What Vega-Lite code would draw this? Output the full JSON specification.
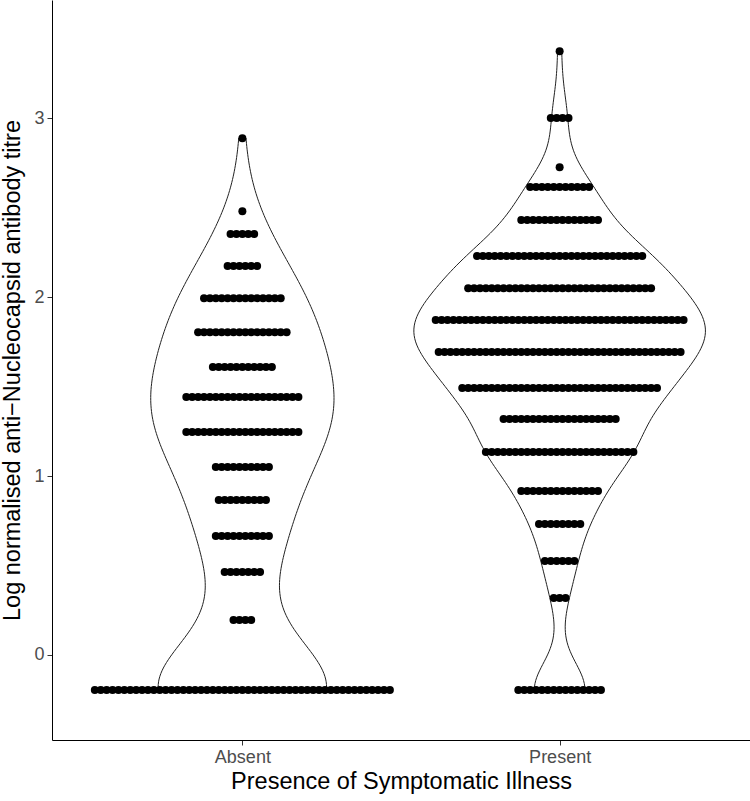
{
"$schema": "https://vega.github.io/schema/vega-lite/v6.json",
"width": 698, "height": 740,
"autosize": {"type": "none"},
"padding": {"left": 52, "top": 0, "right": 0, "bottom": 61},
"background": "white",
"config": {
  "view": {"stroke": null},
  "font": "Liberation Sans",
  "axis": {"grid": false, "domainColor": "black", "domainWidth": 1, "tickColor": "#333333", "tickSize": 5, "labelColor": "#4D4D4D", "labelFontSize": 18, "titleFontSize": 23.5, "titleColor": "black", "titleFontWeight": "normal", "labelFont": "Liberation Sans", "titleFont": "Liberation Sans"}
},
"data": {"values": [
{"g":"Absent","v":2.888},{"g":"Absent","v":2.48},
{"g":"Absent","v":2.352},{"g":"Absent","v":2.352},{"g":"Absent","v":2.352},{"g":"Absent","v":2.352},{"g":"Absent","v":2.352},
{"g":"Absent","v":2.173},{"g":"Absent","v":2.173},{"g":"Absent","v":2.173},{"g":"Absent","v":2.173},{"g":"Absent","v":2.173},{"g":"Absent","v":2.173},
{"g":"Absent","v":1.994},{"g":"Absent","v":1.994},{"g":"Absent","v":1.994},{"g":"Absent","v":1.994},{"g":"Absent","v":1.994},{"g":"Absent","v":1.994},{"g":"Absent","v":1.994},{"g":"Absent","v":1.994},{"g":"Absent","v":1.994},{"g":"Absent","v":1.994},{"g":"Absent","v":1.994},{"g":"Absent","v":1.994},{"g":"Absent","v":1.994},{"g":"Absent","v":1.994},
{"g":"Absent","v":1.804},{"g":"Absent","v":1.804},{"g":"Absent","v":1.804},{"g":"Absent","v":1.804},{"g":"Absent","v":1.804},{"g":"Absent","v":1.804},{"g":"Absent","v":1.804},{"g":"Absent","v":1.804},{"g":"Absent","v":1.804},{"g":"Absent","v":1.804},{"g":"Absent","v":1.804},{"g":"Absent","v":1.804},{"g":"Absent","v":1.804},{"g":"Absent","v":1.804},{"g":"Absent","v":1.804},{"g":"Absent","v":1.804},
{"g":"Absent","v":1.609},{"g":"Absent","v":1.609},{"g":"Absent","v":1.609},{"g":"Absent","v":1.609},{"g":"Absent","v":1.609},{"g":"Absent","v":1.609},{"g":"Absent","v":1.609},{"g":"Absent","v":1.609},{"g":"Absent","v":1.609},{"g":"Absent","v":1.609},{"g":"Absent","v":1.609},
{"g":"Absent","v":1.441},{"g":"Absent","v":1.441},{"g":"Absent","v":1.441},{"g":"Absent","v":1.441},{"g":"Absent","v":1.441},{"g":"Absent","v":1.441},{"g":"Absent","v":1.441},{"g":"Absent","v":1.441},{"g":"Absent","v":1.441},{"g":"Absent","v":1.441},{"g":"Absent","v":1.441},{"g":"Absent","v":1.441},{"g":"Absent","v":1.441},{"g":"Absent","v":1.441},{"g":"Absent","v":1.441},{"g":"Absent","v":1.441},{"g":"Absent","v":1.441},{"g":"Absent","v":1.441},{"g":"Absent","v":1.441},{"g":"Absent","v":1.441},
{"g":"Absent","v":1.246},{"g":"Absent","v":1.246},{"g":"Absent","v":1.246},{"g":"Absent","v":1.246},{"g":"Absent","v":1.246},{"g":"Absent","v":1.246},{"g":"Absent","v":1.246},{"g":"Absent","v":1.246},{"g":"Absent","v":1.246},{"g":"Absent","v":1.246},{"g":"Absent","v":1.246},{"g":"Absent","v":1.246},{"g":"Absent","v":1.246},{"g":"Absent","v":1.246},{"g":"Absent","v":1.246},{"g":"Absent","v":1.246},{"g":"Absent","v":1.246},{"g":"Absent","v":1.246},{"g":"Absent","v":1.246},{"g":"Absent","v":1.246},
{"g":"Absent","v":1.05},{"g":"Absent","v":1.05},{"g":"Absent","v":1.05},{"g":"Absent","v":1.05},{"g":"Absent","v":1.05},{"g":"Absent","v":1.05},{"g":"Absent","v":1.05},{"g":"Absent","v":1.05},{"g":"Absent","v":1.05},{"g":"Absent","v":1.05},
{"g":"Absent","v":0.866},{"g":"Absent","v":0.866},{"g":"Absent","v":0.866},{"g":"Absent","v":0.866},{"g":"Absent","v":0.866},{"g":"Absent","v":0.866},{"g":"Absent","v":0.866},{"g":"Absent","v":0.866},{"g":"Absent","v":0.866},
{"g":"Absent","v":0.665},{"g":"Absent","v":0.665},{"g":"Absent","v":0.665},{"g":"Absent","v":0.665},{"g":"Absent","v":0.665},{"g":"Absent","v":0.665},{"g":"Absent","v":0.665},{"g":"Absent","v":0.665},{"g":"Absent","v":0.665},{"g":"Absent","v":0.665},
{"g":"Absent","v":0.464},{"g":"Absent","v":0.464},{"g":"Absent","v":0.464},{"g":"Absent","v":0.464},{"g":"Absent","v":0.464},{"g":"Absent","v":0.464},{"g":"Absent","v":0.464},
{"g":"Absent","v":0.196},{"g":"Absent","v":0.196},{"g":"Absent","v":0.196},{"g":"Absent","v":0.196},
{"g":"Absent","v":-0.196},{"g":"Absent","v":-0.196},{"g":"Absent","v":-0.196},{"g":"Absent","v":-0.196},{"g":"Absent","v":-0.196},{"g":"Absent","v":-0.196},{"g":"Absent","v":-0.196},{"g":"Absent","v":-0.196},{"g":"Absent","v":-0.196},{"g":"Absent","v":-0.196},
{"g":"Absent","v":-0.196},{"g":"Absent","v":-0.196},{"g":"Absent","v":-0.196},{"g":"Absent","v":-0.196},{"g":"Absent","v":-0.196},{"g":"Absent","v":-0.196},{"g":"Absent","v":-0.196},{"g":"Absent","v":-0.196},{"g":"Absent","v":-0.196},{"g":"Absent","v":-0.196},
{"g":"Absent","v":-0.196},{"g":"Absent","v":-0.196},{"g":"Absent","v":-0.196},{"g":"Absent","v":-0.196},{"g":"Absent","v":-0.196},{"g":"Absent","v":-0.196},{"g":"Absent","v":-0.196},{"g":"Absent","v":-0.196},{"g":"Absent","v":-0.196},{"g":"Absent","v":-0.196},
{"g":"Absent","v":-0.196},{"g":"Absent","v":-0.196},{"g":"Absent","v":-0.196},{"g":"Absent","v":-0.196},{"g":"Absent","v":-0.196},{"g":"Absent","v":-0.196},{"g":"Absent","v":-0.196},{"g":"Absent","v":-0.196},{"g":"Absent","v":-0.196},{"g":"Absent","v":-0.196},
{"g":"Absent","v":-0.196},{"g":"Absent","v":-0.196},{"g":"Absent","v":-0.196},{"g":"Absent","v":-0.196},{"g":"Absent","v":-0.196},{"g":"Absent","v":-0.196},{"g":"Absent","v":-0.196},{"g":"Absent","v":-0.196},{"g":"Absent","v":-0.196},{"g":"Absent","v":-0.196},
{"g":"Absent","v":-0.196},
{"g":"Present","v":3.374},
{"g":"Present","v":3.0},{"g":"Present","v":3.0},{"g":"Present","v":3.0},{"g":"Present","v":3.0},
{"g":"Present","v":2.726},
{"g":"Present","v":2.615},{"g":"Present","v":2.615},{"g":"Present","v":2.615},{"g":"Present","v":2.615},{"g":"Present","v":2.615},{"g":"Present","v":2.615},{"g":"Present","v":2.615},{"g":"Present","v":2.615},{"g":"Present","v":2.615},{"g":"Present","v":2.615},{"g":"Present","v":2.615},
{"g":"Present","v":2.43},{"g":"Present","v":2.43},{"g":"Present","v":2.43},{"g":"Present","v":2.43},{"g":"Present","v":2.43},{"g":"Present","v":2.43},{"g":"Present","v":2.43},{"g":"Present","v":2.43},{"g":"Present","v":2.43},{"g":"Present","v":2.43},{"g":"Present","v":2.43},{"g":"Present","v":2.43},{"g":"Present","v":2.43},{"g":"Present","v":2.43},
{"g":"Present","v":2.229},{"g":"Present","v":2.229},{"g":"Present","v":2.229},{"g":"Present","v":2.229},{"g":"Present","v":2.229},{"g":"Present","v":2.229},{"g":"Present","v":2.229},{"g":"Present","v":2.229},{"g":"Present","v":2.229},{"g":"Present","v":2.229},
{"g":"Present","v":2.229},{"g":"Present","v":2.229},{"g":"Present","v":2.229},{"g":"Present","v":2.229},{"g":"Present","v":2.229},{"g":"Present","v":2.229},{"g":"Present","v":2.229},{"g":"Present","v":2.229},{"g":"Present","v":2.229},{"g":"Present","v":2.229},
{"g":"Present","v":2.229},{"g":"Present","v":2.229},{"g":"Present","v":2.229},{"g":"Present","v":2.229},{"g":"Present","v":2.229},{"g":"Present","v":2.229},{"g":"Present","v":2.229},{"g":"Present","v":2.229},{"g":"Present","v":2.229},
{"g":"Present","v":2.05},{"g":"Present","v":2.05},{"g":"Present","v":2.05},{"g":"Present","v":2.05},{"g":"Present","v":2.05},{"g":"Present","v":2.05},{"g":"Present","v":2.05},{"g":"Present","v":2.05},{"g":"Present","v":2.05},{"g":"Present","v":2.05},
{"g":"Present","v":2.05},{"g":"Present","v":2.05},{"g":"Present","v":2.05},{"g":"Present","v":2.05},{"g":"Present","v":2.05},{"g":"Present","v":2.05},{"g":"Present","v":2.05},{"g":"Present","v":2.05},{"g":"Present","v":2.05},{"g":"Present","v":2.05},
{"g":"Present","v":2.05},{"g":"Present","v":2.05},{"g":"Present","v":2.05},{"g":"Present","v":2.05},{"g":"Present","v":2.05},{"g":"Present","v":2.05},{"g":"Present","v":2.05},{"g":"Present","v":2.05},{"g":"Present","v":2.05},{"g":"Present","v":2.05},
{"g":"Present","v":2.05},{"g":"Present","v":2.05},
{"g":"Present","v":1.872},{"g":"Present","v":1.872},{"g":"Present","v":1.872},{"g":"Present","v":1.872},{"g":"Present","v":1.872},{"g":"Present","v":1.872},{"g":"Present","v":1.872},{"g":"Present","v":1.872},{"g":"Present","v":1.872},{"g":"Present","v":1.872},
{"g":"Present","v":1.872},{"g":"Present","v":1.872},{"g":"Present","v":1.872},{"g":"Present","v":1.872},{"g":"Present","v":1.872},{"g":"Present","v":1.872},{"g":"Present","v":1.872},{"g":"Present","v":1.872},{"g":"Present","v":1.872},{"g":"Present","v":1.872},
{"g":"Present","v":1.872},{"g":"Present","v":1.872},{"g":"Present","v":1.872},{"g":"Present","v":1.872},{"g":"Present","v":1.872},{"g":"Present","v":1.872},{"g":"Present","v":1.872},{"g":"Present","v":1.872},{"g":"Present","v":1.872},{"g":"Present","v":1.872},
{"g":"Present","v":1.872},{"g":"Present","v":1.872},{"g":"Present","v":1.872},{"g":"Present","v":1.872},{"g":"Present","v":1.872},{"g":"Present","v":1.872},{"g":"Present","v":1.872},{"g":"Present","v":1.872},{"g":"Present","v":1.872},{"g":"Present","v":1.872},
{"g":"Present","v":1.872},{"g":"Present","v":1.872},{"g":"Present","v":1.872},
{"g":"Present","v":1.693},{"g":"Present","v":1.693},{"g":"Present","v":1.693},{"g":"Present","v":1.693},{"g":"Present","v":1.693},{"g":"Present","v":1.693},{"g":"Present","v":1.693},{"g":"Present","v":1.693},{"g":"Present","v":1.693},{"g":"Present","v":1.693},
{"g":"Present","v":1.693},{"g":"Present","v":1.693},{"g":"Present","v":1.693},{"g":"Present","v":1.693},{"g":"Present","v":1.693},{"g":"Present","v":1.693},{"g":"Present","v":1.693},{"g":"Present","v":1.693},{"g":"Present","v":1.693},{"g":"Present","v":1.693},
{"g":"Present","v":1.693},{"g":"Present","v":1.693},{"g":"Present","v":1.693},{"g":"Present","v":1.693},{"g":"Present","v":1.693},{"g":"Present","v":1.693},{"g":"Present","v":1.693},{"g":"Present","v":1.693},{"g":"Present","v":1.693},{"g":"Present","v":1.693},
{"g":"Present","v":1.693},{"g":"Present","v":1.693},{"g":"Present","v":1.693},{"g":"Present","v":1.693},{"g":"Present","v":1.693},{"g":"Present","v":1.693},{"g":"Present","v":1.693},{"g":"Present","v":1.693},{"g":"Present","v":1.693},{"g":"Present","v":1.693},
{"g":"Present","v":1.693},{"g":"Present","v":1.693},
{"g":"Present","v":1.492},{"g":"Present","v":1.492},{"g":"Present","v":1.492},{"g":"Present","v":1.492},{"g":"Present","v":1.492},{"g":"Present","v":1.492},{"g":"Present","v":1.492},{"g":"Present","v":1.492},{"g":"Present","v":1.492},{"g":"Present","v":1.492},
{"g":"Present","v":1.492},{"g":"Present","v":1.492},{"g":"Present","v":1.492},{"g":"Present","v":1.492},{"g":"Present","v":1.492},{"g":"Present","v":1.492},{"g":"Present","v":1.492},{"g":"Present","v":1.492},{"g":"Present","v":1.492},{"g":"Present","v":1.492},
{"g":"Present","v":1.492},{"g":"Present","v":1.492},{"g":"Present","v":1.492},{"g":"Present","v":1.492},{"g":"Present","v":1.492},{"g":"Present","v":1.492},{"g":"Present","v":1.492},{"g":"Present","v":1.492},{"g":"Present","v":1.492},{"g":"Present","v":1.492},
{"g":"Present","v":1.492},{"g":"Present","v":1.492},{"g":"Present","v":1.492},{"g":"Present","v":1.492},
{"g":"Present","v":1.318},{"g":"Present","v":1.318},{"g":"Present","v":1.318},{"g":"Present","v":1.318},{"g":"Present","v":1.318},{"g":"Present","v":1.318},{"g":"Present","v":1.318},{"g":"Present","v":1.318},{"g":"Present","v":1.318},{"g":"Present","v":1.318},
{"g":"Present","v":1.318},{"g":"Present","v":1.318},{"g":"Present","v":1.318},{"g":"Present","v":1.318},{"g":"Present","v":1.318},{"g":"Present","v":1.318},{"g":"Present","v":1.318},{"g":"Present","v":1.318},{"g":"Present","v":1.318},{"g":"Present","v":1.318},
{"g":"Present","v":1.134},{"g":"Present","v":1.134},{"g":"Present","v":1.134},{"g":"Present","v":1.134},{"g":"Present","v":1.134},{"g":"Present","v":1.134},{"g":"Present","v":1.134},{"g":"Present","v":1.134},{"g":"Present","v":1.134},{"g":"Present","v":1.134},
{"g":"Present","v":1.134},{"g":"Present","v":1.134},{"g":"Present","v":1.134},{"g":"Present","v":1.134},{"g":"Present","v":1.134},{"g":"Present","v":1.134},{"g":"Present","v":1.134},{"g":"Present","v":1.134},{"g":"Present","v":1.134},{"g":"Present","v":1.134},
{"g":"Present","v":1.134},{"g":"Present","v":1.134},{"g":"Present","v":1.134},{"g":"Present","v":1.134},{"g":"Present","v":1.134},{"g":"Present","v":1.134},
{"g":"Present","v":0.916},{"g":"Present","v":0.916},{"g":"Present","v":0.916},{"g":"Present","v":0.916},{"g":"Present","v":0.916},{"g":"Present","v":0.916},{"g":"Present","v":0.916},{"g":"Present","v":0.916},{"g":"Present","v":0.916},{"g":"Present","v":0.916},
{"g":"Present","v":0.916},{"g":"Present","v":0.916},{"g":"Present","v":0.916},{"g":"Present","v":0.916},
{"g":"Present","v":0.732},{"g":"Present","v":0.732},{"g":"Present","v":0.732},{"g":"Present","v":0.732},{"g":"Present","v":0.732},{"g":"Present","v":0.732},{"g":"Present","v":0.732},{"g":"Present","v":0.732},
{"g":"Present","v":0.525},{"g":"Present","v":0.525},{"g":"Present","v":0.525},{"g":"Present","v":0.525},{"g":"Present","v":0.525},{"g":"Present","v":0.525},
{"g":"Present","v":0.318},{"g":"Present","v":0.318},{"g":"Present","v":0.318},
{"g":"Present","v":-0.196},{"g":"Present","v":-0.196},{"g":"Present","v":-0.196},{"g":"Present","v":-0.196},{"g":"Present","v":-0.196},{"g":"Present","v":-0.196},{"g":"Present","v":-0.196},{"g":"Present","v":-0.196},{"g":"Present","v":-0.196},{"g":"Present","v":-0.196},
{"g":"Present","v":-0.196},{"g":"Present","v":-0.196},{"g":"Present","v":-0.196},{"g":"Present","v":-0.196},{"g":"Present","v":-0.196}
]},
"encoding": {
  "y": {"field": "v", "type": "quantitative", "scale": {"domain": [-0.475, 3.66], "nice": false, "zero": false},
        "axis": {"values": [0, 1, 2, 3], "format": "d", "labelPadding": 3, "titlePadding": 9},
        "title": "Log normalised anti\u2212Nucleocapsid antibody titre"},
  "x": {"field": "xp", "type": "quantitative", "scale": {"domain": [0.4, 2.6], "nice": false, "zero": false},
        "axis": {"values": [1, 2], "labelExpr": "datum.value == 1 ? 'Absent' : 'Present'", "labelPadding": 3, "titlePadding": 3},
        "title": "Presence of Symptomatic Illness"}
},
"layer": [
  {"transform": [
     {"filter": "datum.g === 'Absent'"},
     {"density": "v", "bandwidth": 0.271, "extent": [-0.196, 2.888], "steps": 200, "as": ["v", "density"]},
     {"calculate": "1 - datum.density * 0.63", "as": "xp"},
     {"calculate": "1 + datum.density * 0.63", "as": "xp2"}],
   "mark": {"type": "area", "orient": "horizontal", "fill": "white", "stroke": "#222222", "strokeWidth": 1},
   "encoding": {"x2": {"field": "xp2"}}},
  {"transform": [
     {"filter": "datum.g === 'Present'"},
     {"density": "v", "bandwidth": 0.156, "extent": [-0.196, 3.374], "steps": 200, "as": ["v", "density"]},
     {"calculate": "2 - datum.density * 0.63", "as": "xp"},
     {"calculate": "2 + datum.density * 0.63", "as": "xp2"}],
   "mark": {"type": "area", "orient": "horizontal", "fill": "white", "stroke": "#222222", "strokeWidth": 1},
   "encoding": {"x2": {"field": "xp2"}}},
  {"transform": [
     {"window": [{"op": "row_number", "as": "r"}], "groupby": ["g", "v"]},
     {"joinaggregate": [{"op": "count", "as": "n"}], "groupby": ["g", "v"]},
     {"calculate": "(datum.g === 'Absent' ? 1 : 2) + (datum.r - (datum.n + 1) / 2) * 0.0186", "as": "xp"}],
   "mark": {"type": "circle", "size": 64, "color": "black", "opacity": 1}}
]
}
